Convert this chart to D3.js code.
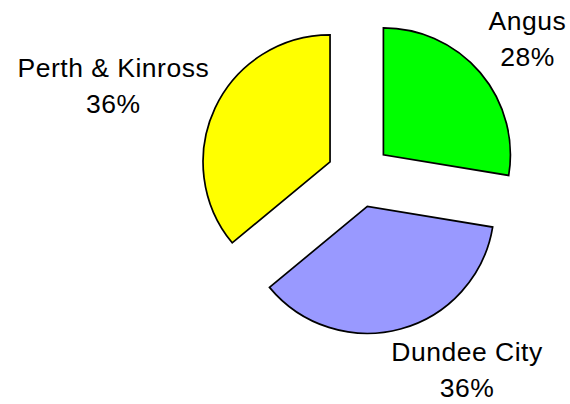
<!DOCTYPE html>
<html>
<head>
<meta charset="utf-8">
<script src="https://cdn.jsdelivr.net/npm/d3@7"></script>
<style>
  body { margin: 0; background: #fff; }
</style>
</head>
<body>
<div id="chart"></div>
<script>
// shares of the three council areas, clockwise from 12 o'clock
const regions = ["Angus", "Dundee City", "Perth & Kinross"];
const shares = [27.6, 36.4, 36.0];
const colours = ["#00ff00", "#9999ff", "#ffff00"];

const width = 570, height = 404;
const cx = 359, cy = 175.5;
const radius = 127, explode = 32;
const labelRadius = 170;
const fontSize = 26.5, lineGap = 36, capHeight = fontSize * 0.716;
// small hand nudges so the labels sit where the original placed them
const labelShift = [[0, 0], [-12, 2], [4, 10]];

const svg = d3.create("svg")
    .attr("width", width)
    .attr("height", height)
    .attr("viewBox", [0, 0, width, height])
    .style("font-family", "'Liberation Sans', Arial, sans-serif");

const pie = d3.pie().sort(null).value(d => d.value);
const arcs = pie(regions.map((r, i) => ({name: r, value: shares[i], colour: colours[i]})));
const arc = d3.arc().innerRadius(0).outerRadius(radius);

const mid = d => (d.startAngle + d.endAngle) / 2;

svg.append("g")
    .attr("transform", `translate(${cx},${cy})`)
  .selectAll("path")
  .data(arcs)
  .join("path")
    .attr("transform", d => `translate(${explode * Math.sin(mid(d))},${-explode * Math.cos(mid(d))})`)
    .attr("d", arc)
    .attr("fill", d => d.data.colour)
    .attr("stroke", "#000")
    .attr("stroke-width", 1.7)
    .attr("stroke-linejoin", "miter");

const total = d3.sum(shares);
const labels = svg.append("g")
  .selectAll("text")
  .data(arcs)
  .join("text")
    .attr("text-anchor", "middle")
    .attr("font-size", fontSize)
    .attr("letter-spacing", 0.5)
    .attr("fill", "#000");

labels.append("tspan").attr("class", "l1").text(d => d.data.name);
labels.append("tspan").attr("class", "l2").text(d => `${Math.round(d.value / total * 100)}%`);

document.getElementById("chart").append(svg.node());

// place each label box so its corner nearest the pie sits on the label circle
labels.each(function(d, i) {
  const t = d3.select(this);
  const w = d3.max(t.selectAll("tspan").nodes(), n => n.getComputedTextLength());
  const h = capHeight + lineGap;
  const a = mid(d);
  const ax = cx + labelRadius * Math.sin(a);
  const ay = cy - labelRadius * Math.cos(a);
  const x0 = (Math.sin(a) >= 0 ? ax : ax - w) + labelShift[i][0];
  const y0 = (Math.cos(a) >= 0 ? ay - h : ay) + labelShift[i][1];
  const x = x0 + w / 2;
  t.select(".l1").attr("x", x).attr("y", y0 + capHeight);
  t.select(".l2").attr("x", x).attr("y", y0 + capHeight + lineGap);
});
</script>
</body>
</html>
